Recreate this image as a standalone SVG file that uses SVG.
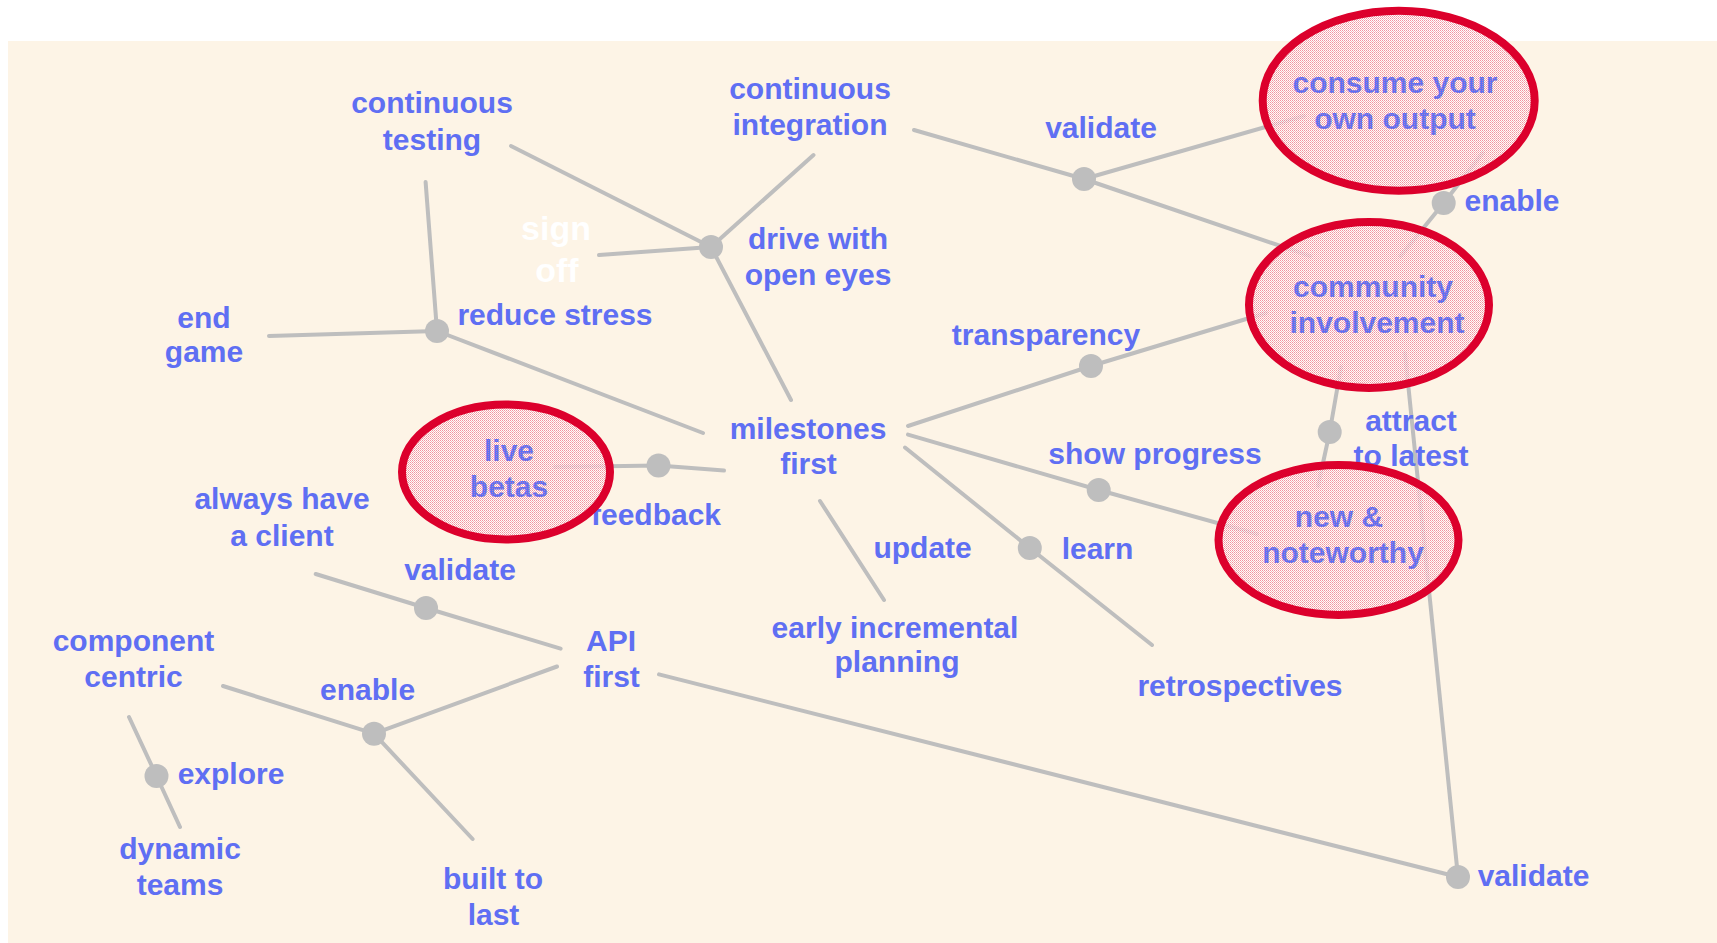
<svg xmlns="http://www.w3.org/2000/svg" width="1717" height="943" viewBox="0 0 1717 943">
  <defs>
    <pattern id="dither" width="2" height="2" patternUnits="userSpaceOnUse">
      <rect width="2" height="2" fill="#FFFFFF"/>
      <rect width="1" height="1" fill="#EE8494"/>
      <rect x="1" y="1" width="1" height="1" fill="#F4A6B2"/>
    </pattern>
    <pattern id="speckle" width="2" height="2" patternUnits="userSpaceOnUse">
      <rect width="1" height="1" fill="#F08C9C"/>
    </pattern>
    <style>
      .link { fill: none; stroke: #BEBEBE; stroke-width: 4; stroke-linecap: round; stroke-linejoin: round; }
      .dot { fill: #BEBEBE; }
      .lbl { font-family: "Liberation Sans", Arial, sans-serif; font-weight: bold; font-size: 30px; fill: #5F6FF3; text-anchor: middle; }
      .ghost { font-family: "Liberation Sans", Arial, sans-serif; font-weight: bold; font-size: 34px; fill: #FFFFFF; text-anchor: middle; }
      .hot { fill: url(#dither); fill-opacity: 0.82; stroke: none; }
      .veil { fill: url(#speckle); fill-opacity: 0.45; stroke: #DC002C; stroke-width: 8; }
    </style>
  </defs>

  <rect x="8" y="41" width="1709" height="902" fill="#FDF4E6"/>

  <!-- connectors -->
  <g id="connectors">
    <polyline class="link" points="511,146 711,247"/>
    <polyline class="link" points="813.5,155 711,247"/>
    <polyline class="link" points="599,255 711,247"/>
    <polyline class="link" points="711,247 791,400"/>
    <polyline class="link" points="425.6,182 437,331"/>
    <polyline class="link" points="269,336 437,331"/>
    <polyline class="link" points="437,331 703,433"/>
    <polyline class="link" points="914,130 1084,179 1304,116"/>
    <polyline class="link" points="1084,179 1310,256"/>
    <polyline class="link" points="1482.7,153 1443.7,203 1400.6,256"/>
    <polyline class="link" points="908,426 1091,366 1266,313"/>
    <polyline class="link" points="1341,367 1329.7,432 1318,486"/>
    <polyline class="link" points="1405,353 1458,877"/>
    <polyline class="link" points="908,434.6 1098.7,490 1257,534"/>
    <polyline class="link" points="905,447.5 1029.8,548 1152,645"/>
    <polyline class="link" points="820,501 884,600"/>
    <polyline class="link" points="724,470.5 658.5,465.5 555,467"/>
    <polyline class="link" points="659,674.4 1458,877"/>
    <polyline class="link" points="315.7,574 426,608 560.6,648.6"/>
    <polyline class="link" points="557,666.5 374,733.7 472.6,839"/>
    <polyline class="link" points="223,686 374,733.7"/>
    <polyline class="link" points="129,717 156.5,776 180,827"/>
  </g>

  <!-- relation points -->
  <g id="rel-reduce-stress"><circle class="dot" cx="437" cy="331" r="12"/><text class="lbl" x="555" y="325">reduce stress</text></g>
  <g id="rel-drive"><circle class="dot" cx="711" cy="247" r="12"/><text class="lbl" x="818" y="249">drive with</text><text class="lbl" x="818" y="285">open eyes</text></g>
  <g id="rel-validate-top"><circle class="dot" cx="1084" cy="179" r="12"/><text class="lbl" x="1101" y="138">validate</text></g>
  <g id="rel-enable-top"><circle class="dot" cx="1443.7" cy="203" r="12"/><text class="lbl" x="1512" y="211">enable</text></g>
  <g id="rel-transparency"><circle class="dot" cx="1091" cy="366" r="12"/><text class="lbl" x="1046" y="345">transparency</text></g>
  <g id="rel-attract"><circle class="dot" cx="1329.7" cy="432" r="12"/><text class="lbl" x="1411" y="431">attract</text><text class="lbl" x="1411" y="466">to latest</text></g>
  <g id="rel-validate-bottom"><circle class="dot" cx="1458" cy="877" r="12"/><text class="lbl" x="1533.5" y="886">validate</text></g>
  <g id="rel-show-progress"><circle class="dot" cx="1098.7" cy="490" r="12"/><text class="lbl" x="1155" y="464">show progress</text></g>
  <g id="rel-learn"><circle class="dot" cx="1029.8" cy="548" r="12"/><text class="lbl" x="1097.5" y="558.5">learn</text></g>
  <g id="rel-feedback"><circle class="dot" cx="658.5" cy="465.5" r="12"/><text class="lbl" x="656" y="525">feedback</text></g>
  <g id="rel-validate-left"><circle class="dot" cx="426" cy="608" r="12"/><text class="lbl" x="460" y="580">validate</text></g>
  <g id="rel-enable-left"><circle class="dot" cx="374" cy="733.7" r="12"/><text class="lbl" x="367.6" y="699.6">enable</text></g>
  <g id="rel-explore"><circle class="dot" cx="156.5" cy="776" r="12"/><text class="lbl" x="231" y="784">explore</text></g>
  <g id="rel-update"><text class="lbl" x="922.6" y="558">update</text></g>

  <!-- plain nodes -->
  <g id="node-continuous-testing"><text class="lbl" x="432" y="113">continuous</text><text class="lbl" x="432" y="150">testing</text></g>
  <g id="node-continuous-integration"><text class="lbl" x="810" y="99">continuous</text><text class="lbl" x="810" y="135">integration</text></g>
  <g id="node-sign-off"><text class="ghost" x="556" y="240">sign</text><text class="ghost" x="557" y="282">off</text></g>
  <g id="node-end-game"><text class="lbl" x="204" y="328">end</text><text class="lbl" x="204" y="362">game</text></g>
  <g id="node-milestones"><text class="lbl" x="808" y="438.5">milestones</text><text class="lbl" x="808.5" y="474">first</text></g>
  <g id="node-always-client"><text class="lbl" x="282" y="509">always have</text><text class="lbl" x="282" y="546">a client</text></g>
  <g id="node-api-first"><text class="lbl" x="611" y="651">API</text><text class="lbl" x="611.5" y="687">first</text></g>
  <g id="node-early-planning"><text class="lbl" x="895" y="638">early incremental</text><text class="lbl" x="897" y="671.6">planning</text></g>
  <g id="node-retrospectives"><text class="lbl" x="1240" y="696">retrospectives</text></g>
  <g id="node-component-centric"><text class="lbl" x="133.5" y="651">component</text><text class="lbl" x="133.5" y="687">centric</text></g>
  <g id="node-dynamic-teams"><text class="lbl" x="180" y="859">dynamic</text><text class="lbl" x="180" y="895">teams</text></g>
  <g id="node-built-to-last"><text class="lbl" x="493" y="889">built to</text><text class="lbl" x="493.5" y="925">last</text></g>

  <!-- highlighted nodes: dithered fill, label, then a speckled veil with the red rim -->
  <g id="node-consume-output">
    <ellipse class="hot" cx="1398.7" cy="100.8" rx="136" ry="90"/>
    <text class="lbl" x="1395" y="93">consume your</text><text class="lbl" x="1395" y="129">own output</text>
    <ellipse class="veil" cx="1398.7" cy="100.8" rx="136" ry="90"/>
  </g>
  <g id="node-community">
    <ellipse class="hot" cx="1369" cy="305" rx="120" ry="83"/>
    <text class="lbl" x="1373" y="297">community</text><text class="lbl" x="1377" y="333">involvement</text>
    <ellipse class="veil" cx="1369" cy="305" rx="120" ry="83"/>
  </g>
  <g id="node-new-noteworthy">
    <ellipse class="hot" cx="1338.5" cy="540" rx="120" ry="75"/>
    <text class="lbl" x="1339" y="526.5">new &amp;</text><text class="lbl" x="1343" y="563">noteworthy</text>
    <ellipse class="veil" cx="1338.5" cy="540" rx="120" ry="75"/>
  </g>
  <g id="node-live-betas">
    <ellipse class="hot" cx="506" cy="472" rx="104" ry="67.5"/>
    <text class="lbl" x="509" y="461">live</text><text class="lbl" x="509" y="497">betas</text>
    <ellipse class="veil" cx="506" cy="472" rx="104" ry="67.5"/>
  </g>
</svg>
